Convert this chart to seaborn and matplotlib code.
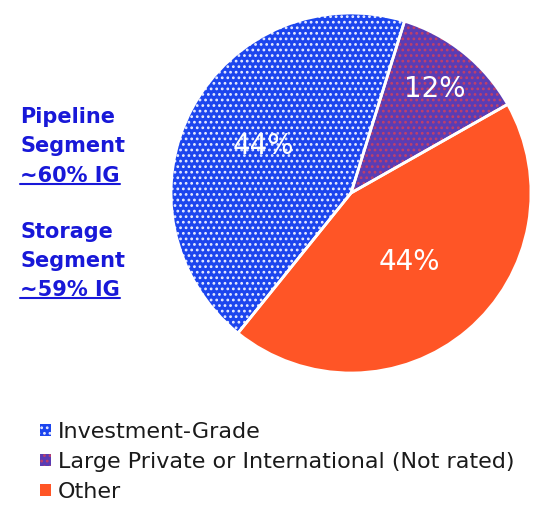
import matplotlib.pyplot as plt
import matplotlib.lines as mlines
import seaborn as sns
import numpy as np

categories = ['Investment-Grade', 'Large Private or International (Not rated)', 'Other']
shares = [44, 12, 44]
face_colors = ['#1c45ee', '#5a3cb4', '#ff5526']
hatch_colors = ['#e8ecff', '#c0406a', '#ff5526']
hatches = ['...', '...', None]

side_lines = [('Pipeline', False), ('Segment', False), ('~60% IG', True),
              ('Storage', False), ('Segment', False), ('~59% IG', True)]
side_y = [117, 146, 176, 232, 261, 290]  # pixel rows from top

sns.set_theme(style='white')
plt.rcParams['font.family'] = ['DejaVu Sans']
plt.rcParams['hatch.linewidth'] = 1.2

W, H = 539, 509
fig = plt.figure(figsize=(W / 100, H / 100), dpi=100)
cx, cy, r = 351, 193, 180
ax = fig.add_axes([(cx - r) / W, (H - cy - r) / H, 2 * r / W, 2 * r / H])

start = 72.7 + 360 * shares[0] / 100  # blue slice ends at ~72.7 deg
wedges, texts, autotexts = ax.pie(
    shares, colors=face_colors, startangle=start, counterclock=False,
    autopct='%d%%', pctdistance=0.55,
    wedgeprops=dict(linewidth=0),
    textprops=dict(color='white', fontsize=20))
for w, hc, h in zip(wedges, hatch_colors, hatches):
    if h:
        w.set_hatch(h)
        w.set_edgecolor(hc)
# white separators on top
ax.pie(shares, startangle=start, counterclock=False,
       wedgeprops=dict(facecolor='none', edgecolor='white', linewidth=2))
for t in autotexts:
    t.set_zorder(10)
# push the small slice label outward, pull the other one in
x, y = autotexts[1].get_position()
autotexts[1].set_position((x * 0.74 / 0.55, y * 0.74 / 0.55))
x, y = autotexts[2].get_position()
autotexts[2].set_position((x * 0.5 / 0.55, y * 0.5 / 0.55))
ax.set_xlim(-1, 1)
ax.set_ylim(-1, 1)
ax.axis('off')

side_texts = []
for (txt, under), yy in zip(side_lines, side_y):
    t = fig.text(20 / W, 1 - yy / H, txt, color='#1818d8', fontsize=15,
                 fontweight='bold', va='center', ha='left')
    side_texts.append((t, under))

leg = fig.legend(wedges, categories, loc='upper left',
                 bbox_to_anchor=(40 / W, 1 - 422 / H), frameon=False,
                 fontsize=16, handlelength=0.5, handleheight=0.5,
                 handletextpad=0.3, labelspacing=0.45, borderpad=0, borderaxespad=0)
for t in leg.get_texts():
    t.set_color('#1a1a1a')

fig.canvas.draw()
renderer = fig.canvas.get_renderer()
for t, under in side_texts:
    if under:
        bb = t.get_window_extent(renderer).transformed(fig.transFigure.inverted())
        fig.add_artist(mlines.Line2D([bb.x0, bb.x1], [bb.y0 + 0.004, bb.y0 + 0.004],
                                     transform=fig.transFigure, color='#1818d8', lw=1.5))

fig.savefig('out.png', dpi=100)
